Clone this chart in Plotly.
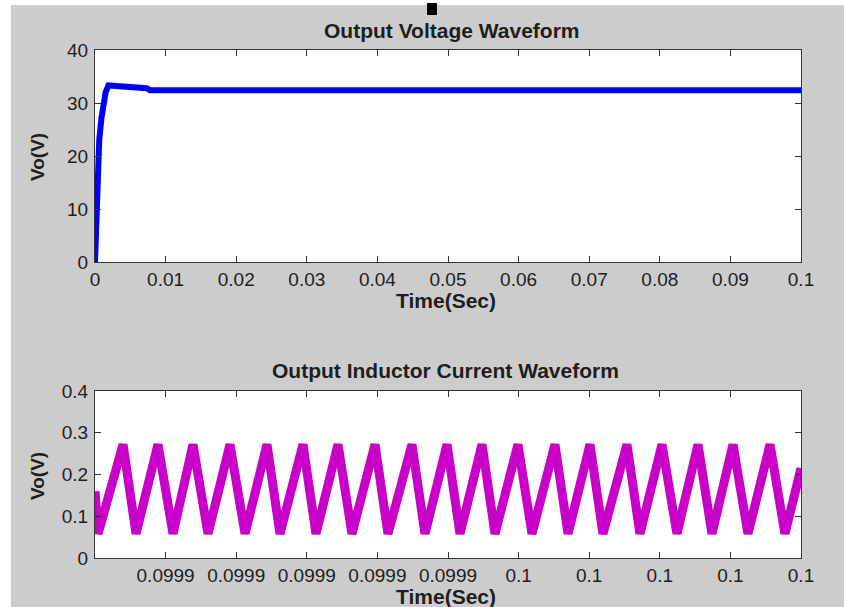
import plotly.graph_objects as go

W, H = 844, 607

# ---------------- data ----------------
# Output voltage waveform (top)
vo_time = [0.0, 0.0002, 0.0004, 0.0006, 0.0009, 0.0012, 0.0015, 0.0019,
           0.0030, 0.0050, 0.0073, 0.0078, 0.1]
vo_volt = [0.0, 10.0, 20.0, 23.0, 27.0, 30.0, 32.0, 33.3,
           33.2, 33.0, 32.8, 32.4, 32.4]

# Output inductor current waveform (bottom) - vertices of the ripple
il_time = [0.09990000, 0.09990043, 0.09990397, 0.09990581, 0.09990892, 0.09991105,
           0.09991388, 0.09991601, 0.09991912, 0.09992125, 0.09992436, 0.09992620,
           0.09992946, 0.09993130, 0.09993442, 0.09993640, 0.09993966, 0.09994150,
           0.09994490, 0.09994674, 0.09994986, 0.09995170, 0.09995482, 0.09995666,
           0.09995991, 0.09996190, 0.09996515, 0.09996700, 0.09997011, 0.09997195,
           0.09997535, 0.09997719, 0.09998031, 0.09998243, 0.09998541, 0.09998739,
           0.09999037, 0.09999249, 0.09999561, 0.09999773, 0.10000000]
il_curr = [0.16, 0.058, 0.272, 0.058, 0.272, 0.058, 0.272, 0.058, 0.272, 0.058,
           0.272, 0.058, 0.272, 0.058, 0.272, 0.058, 0.272, 0.058, 0.272, 0.058,
           0.272, 0.058, 0.272, 0.058, 0.272, 0.058, 0.272, 0.058, 0.272, 0.058,
           0.272, 0.058, 0.272, 0.058, 0.272, 0.058, 0.272, 0.058, 0.272, 0.058,
           0.215]

top_xticks = [0, 0.01, 0.02, 0.03, 0.04, 0.05, 0.06, 0.07, 0.08, 0.09, 0.1]
top_xlabels = ["0", "0.01", "0.02", "0.03", "0.04", "0.05", "0.06", "0.07", "0.08", "0.09", "0.1"]
top_yticks = [0, 10, 20, 30, 40]
bot_xticks = [0.09991, 0.09992, 0.09993, 0.09994, 0.09995,
              0.09996, 0.09997, 0.09998, 0.09999, 0.1]
bot_xlabels = ["0.0999", "0.0999", "0.0999", "0.0999", "0.0999",
               "0.1", "0.1", "0.1", "0.1", "0.1"]
bot_yticks = [0, 0.1, 0.2, 0.3, 0.4]
bot_ylabels = ["0", "0.1", "0.2", "0.3", "0.4"]

title_top = "Output Voltage Waveform"
title_bot = "Output Inductor Current Waveform"
xlabel = "Time(Sec)"
ylabel = "Vo(V)"

# ---------------- helpers ----------------
def fx(px):
    return px / W

def fy(py):
    return 1 - py / H

FONT = "Liberation Sans, Arial, Helvetica, sans-serif"
TXT = "#1e1e1e"

fig = go.Figure()
fig.add_trace(go.Scatter(x=vo_time, y=vo_volt, mode="lines",
                         line=dict(color="#0000ff", width=6),
                         xaxis="x", yaxis="y", showlegend=False))
fig.add_trace(go.Scatter(x=il_time, y=il_curr, mode="lines",
                         line=dict(color="#c800c8", width=9),
                         xaxis="x2", yaxis="y2", showlegend=False))

axis_common = dict(showline=True, linecolor="#333333", linewidth=1, mirror="ticks",
                   ticks="inside", ticklen=6, tickcolor="#333333", tickwidth=1,
                   showgrid=False, zeroline=False, automargin=False,
                   tickfont=dict(family=FONT, size=19, color=TXT))

xd = [fx(95), fx(801)]
fig.update_layout(
    width=W, height=H,
    margin=dict(l=0, r=0, t=0, b=0),
    paper_bgcolor="#cccccc", plot_bgcolor="white",
    showlegend=False,
    xaxis=dict(domain=xd, range=[0, 0.1], anchor="y",
               tickvals=top_xticks, ticktext=top_xlabels, **axis_common),
    yaxis=dict(domain=[fy(262), fy(50)], range=[0, 40], anchor="x",
               tickvals=top_yticks, ticklabelstandoff=2, **axis_common),
    xaxis2=dict(domain=xd, range=[0.0999, 0.1], anchor="y2",
                tickvals=bot_xticks, ticktext=bot_xlabels, **axis_common),
    yaxis2=dict(domain=[fy(558), fy(391)], range=[0, 0.4], anchor="x2",
                tickvals=bot_yticks, ticktext=bot_ylabels, ticklabelstandoff=2,
                **axis_common),
)

def ann(text, x, y, size=21, angle=0):
    fig.add_annotation(text=text, x=fx(x), y=fy(y), xref="paper", yref="paper",
                       xanchor="center", yanchor="middle", showarrow=False,
                       textangle=angle,
                       font=dict(family=FONT, size=size, color=TXT))

ann("<b>%s</b>" % title_top, 452, 30)
ann("<b>%s</b>" % xlabel, 446, 300)
ann("<b>%s</b>" % ylabel, 37, 157, size=19, angle=-90)
ann("<b>%s</b>" % title_bot, 446, 370)
ann("<b>%s</b>" % xlabel, 446, 596)
ann("<b>%s</b>" % ylabel, 37, 476, size=19, angle=-90)

# white border strips and small black square artifact
fig.add_shape(type="rect", xref="paper", yref="paper", x0=0, x1=fx(11), y0=0, y1=1,
              fillcolor="white", line=dict(width=0))
fig.add_shape(type="rect", xref="paper", yref="paper", x0=0, x1=1, y0=fy(5), y1=1,
              fillcolor="white", line=dict(width=0))
fig.add_shape(type="rect", xref="paper", yref="paper", x0=fx(427), x1=fx(437),
              y0=fy(15), y1=fy(3), fillcolor="black", line=dict(width=0))

fig.write_html("out.html", config={"displayModeBar": False},
               post_script="document.body.style.margin='0';document.body.style.padding='0';")
